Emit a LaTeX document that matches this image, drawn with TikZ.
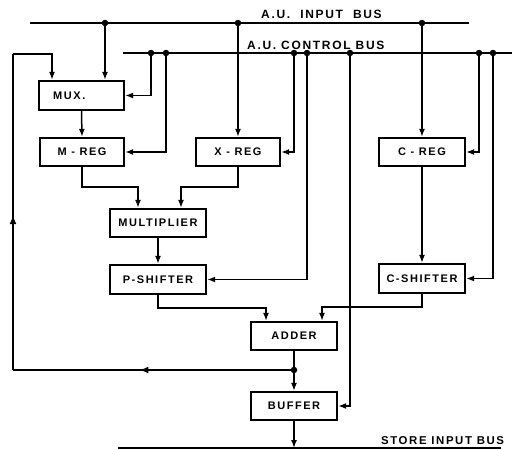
\documentclass[tikz,border=0pt]{standalone}
\usepackage{fontspec}
\setmainfont{Liberation Sans}[LetterSpace=14]
\usetikzlibrary{arrows.meta,decorations.markings}
\begin{document}
\begin{tikzpicture}[x=1pt,y=-1pt,
  blk/.style={draw,line width=2.3pt,inner sep=0pt,font=\bfseries\fontsize{11}{11}\selectfont,minimum height=28pt},
  wire/.style={line width=1.5pt},
  bus/.style={line width=1.7pt},
  arr/.style={wire,-{Latex[length=8pt,width=6pt]}},
  jdot/.style={circle,fill,inner sep=0pt,minimum size=6.5pt},
  lbl/.style={anchor=base west,inner sep=0pt,font=\bfseries\fontsize{12}{12}\selectfont},
  midleft/.style={decoration={markings,mark=at position #1 with {\arrow{Latex[length=9pt,width=7pt]}}},postaction={decorate}}
]
\useasboundingbox (0,0) rectangle (512,450);

% boxes
\node[blk,minimum width=85pt,minimum height=29pt] (mux) at (81.5,95.5) {};
\node[anchor=west,inner sep=0pt,font=\bfseries\fontsize{11}{11}\selectfont] (muxt) at (53,96) {MUX.};
\node[blk,minimum width=84pt] (mreg) at (82,152) {M - REG};
\node[blk,minimum width=84pt] (xreg) at (238,152) {X - REG};
\node[blk,minimum width=86pt] (creg) at (422,152) {C - REG};
\node[blk,minimum width=96pt] (mult) at (158,223) {MULTIPLIER};
\node[blk,minimum width=96pt,minimum height=29pt] (psh) at (158,279.5) {P-SHIFTER};
\node[blk,minimum width=86pt,minimum height=29pt] (csh) at (422,278.5) {C-SHIFTER};
\node[blk,minimum width=86pt] (adder) at (294,336) {ADDER};
\node[blk,minimum width=86pt] (buf) at (294,406) {BUFFER};

% buses
\coordinate (ibL) at (30,23);
\coordinate (ibR) at (469,23);
\coordinate (cbL) at (123,53);
\coordinate (cbR) at (512,53);
\coordinate (sbL) at (118,448);
\coordinate (sbR) at (501,448);
\draw[bus] (ibL) -- (ibR);
\draw[bus] (cbL) -- (cbR);
\draw[bus] (sbL) -- (sbR);

\node[lbl] (iblbl) at (261,18) {A.U.\ \ INPUT\ \ BUS};
\node[lbl] (cblbl) at (247,49) {A.U.\ CONTROL\ BUS};
\node[lbl,font=\bfseries\fontsize{11.4}{11.4}\selectfont] (sblbl) at (381,444) {STORE\ INPUT\ BUS};

% input bus taps
\coordinate (i1) at (105,23);
\coordinate (i2) at (238,23);
\coordinate (i3) at (422,23);
\draw[arr] (i1) -- (i1 |- mux.north);
\draw[arr] (i2) -- (xreg.north);
\draw[arr] (i3) -- (creg.north);
\foreach \p in {i1,i2,i3} \node[jdot] at (\p) {};

% control bus taps
\coordinate (c1) at (151,53);
\coordinate (c2) at (166,53);
\coordinate (c3) at (294,53);
\coordinate (c4) at (307,53);
\coordinate (c5) at (350,53);
\coordinate (c6) at (479,53);
\coordinate (c7) at (493,53);
\draw[arr] (c1) |- (mux.east);
\draw[arr] (c2) |- (mreg.east);
\draw[arr] (c3) |- (xreg.east);
\draw[arr] (c4) |- (psh.east);
\draw[arr] (c5) |- (buf.east);
\draw[arr] (c6) |- (creg.east);
\draw[arr] (c7) |- (csh.east);
\foreach \p in {c1,c2,c3,c4,c5,c6,c7} \node[jdot] at (\p) {};

% data path
\draw[arr] (mux.south) -- (mreg.north);
\coordinate (m1) at (82,187);
\coordinate (m2) at (138,187);
\draw[arr] (mreg.south) -- (m1) -- (m2) -- (m2 |- mult.north);
\coordinate (x1) at (238,187);
\coordinate (x2) at (181,187);
\draw[arr] (xreg.south) -- (x1) -- (x2) -- (x2 |- mult.north);
\draw[arr] (mult.south) -- (psh.north);
\coordinate (p1) at (158,308);
\coordinate (p2) at (266,308);
\draw[arr] (psh.south) -- (p1) -- (p2) -- (p2 |- adder.north);
\draw[arr] (creg.south) -- (csh.north);
\coordinate (s1) at (422,307);
\coordinate (s2) at (322,307);
\draw[arr] (csh.south) -- (s1) -- (s2) -- (s2 |- adder.north);

\coordinate (j) at (294,370);
\draw[arr] (adder.south) -- (buf.north);
\draw[arr] (buf.south) -- (buf.south |- sbL);

% feedback
\coordinate (f1) at (13,370);
\coordinate (f2) at (13,54);
\coordinate (f3) at (52,54);
\draw[wire,midleft=0.55] (j) -- (f1);
\draw[wire,midleft=0.49] (f1) -- (f2);
\draw[arr] (f2) -- (f3) -- (f3 |- mux.north);
\node[jdot] at (j) {};
\end{tikzpicture}
\end{document}
